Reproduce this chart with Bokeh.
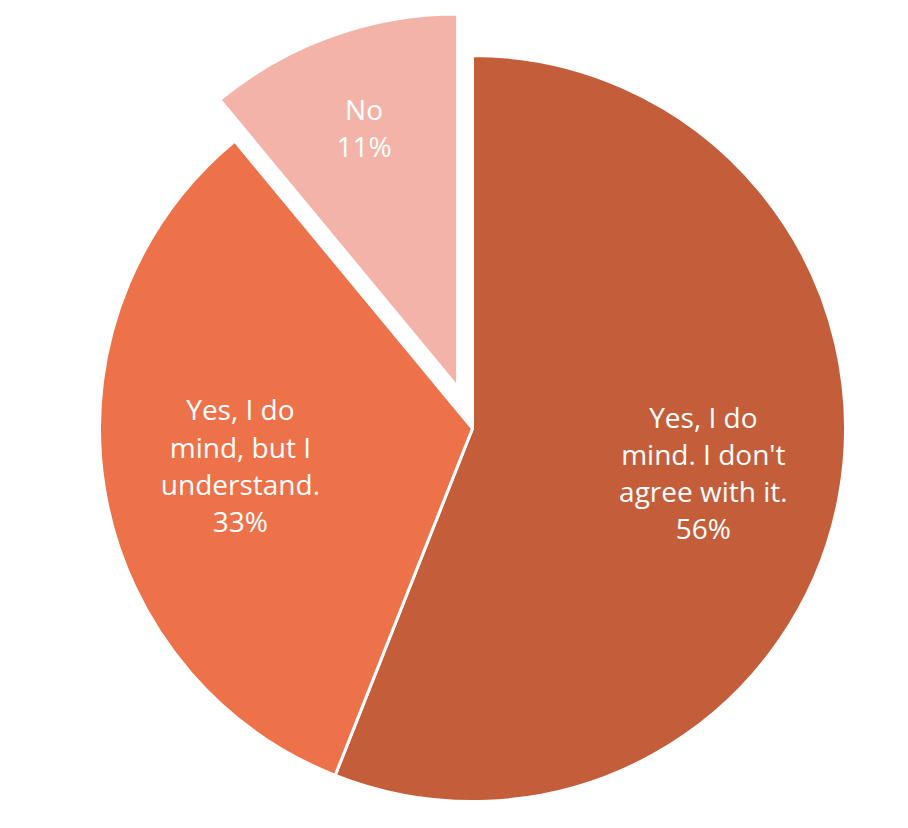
import math
from bokeh.plotting import figure
from bokeh.models import Range1d, ColumnDataSource
from bokeh.core.properties import value
from bokeh.embed import file_html
from bokeh.resources import INLINE

categories = ["Yes, I do\nmind. I don't\nagree with it.", "Yes, I do\nmind, but I\nunderstand.", "No"]
values = [56, 33, 11]
colors = ["#C45E3A", "#ED724A", "#F4B3A8"]
explode = [0, 0, 44]
label_pos = [0.63, 0.63, 0.74]

W, H = 892, 812
cx, cy = 472, 384
R = 373

total = sum(values)
xs, ys, starts, ends, lx, ly, texts = [], [], [], [], [], [], []
cum = 0.0
for cat, v, ex, lp in zip(categories, values, explode, label_pos):
    a0 = math.pi / 2 - cum / total * 2 * math.pi
    cum += v
    a1 = math.pi / 2 - cum / total * 2 * math.pi
    mid = (a0 + a1) / 2
    ox = cx + ex * math.cos(mid)
    oy = cy + ex * math.sin(mid)
    xs.append(ox); ys.append(oy); starts.append(a0); ends.append(a1)
    lx.append(ox + lp * R * math.cos(mid))
    ly.append(oy + lp * R * math.sin(mid))
    texts.append(f"{cat}\n{v}%")

src = ColumnDataSource(dict(x=xs, y=ys, start=starts, end=ends, color=colors))
lsrc = ColumnDataSource(dict(x=lx, y=ly, text=texts))

p = figure(width=W, height=H, x_range=Range1d(0, W), y_range=Range1d(0, H),
           output_backend="svg", toolbar_location=None, min_border=0)
p.axis.visible = False
p.grid.visible = False
p.outline_line_color = None
p.background_fill_color = "white"
p.border_fill_color = "white"

p.wedge(x="x", y="y", radius=R, start_angle="start", end_angle="end", direction="clock",
        fill_color="color", line_color="white", line_width=3, source=src)
p.text(x="x", y="y", text="text", source=lsrc, text_color="white",
       text_font=value("Open Sans"), text_font_size="28px", text_align="center",
       text_baseline="middle", text_line_height=0.98)

open("out.html", "w").write(file_html(p, INLINE))
